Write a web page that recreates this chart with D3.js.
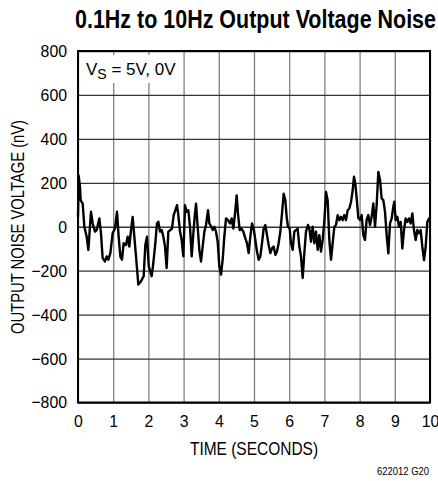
<!DOCTYPE html>
<html>
<head>
<meta charset="utf-8">
<script src="https://cdn.jsdelivr.net/npm/d3@7"></script>
<style>
  body { margin: 0; background: #fff; }
  svg { display: block; font-family: "Liberation Sans", Arial, sans-serif; }
</style>
</head>
<body>
<svg id="chart" width="438" height="481"></svg>
<script>
// values (seconds, nV)
var timeSec = [
  0, 0.019, 0.057, 0.076, 0.133, 0.18, 0.246, 0.294, 0.369, 0.417, 0.483, 0.53, 0.606, 0.653, 0.70, 0.767, 0.814, 0.862, 0.919, 0.985,
  1.05, 1.108, 1.155, 1.203, 1.25, 1.297, 1.364, 1.411, 1.458, 1.506, 1.553, 1.60, 1.648, 1.714, 1.79, 1.866, 1.913, 1.96,
  2.01, 2.093, 2.14, 2.197, 2.244, 2.282, 2.33, 2.377, 2.424, 2.472, 2.519, 2.566, 2.623, 2.67, 2.718, 2.765, 2.813, 2.85, 2.898, 2.945, 2.993,
  3.04, 3.087, 3.135, 3.182, 3.23, 3.277, 3.315, 3.353, 3.40, 3.447, 3.495, 3.542, 3.59, 3.637, 3.694, 3.731, 3.788, 3.826, 3.873, 3.92, 3.968,
  4.015, 4.063, 4.11, 4.157, 4.205, 4.261, 4.318, 4.366, 4.413, 4.46, 4.508, 4.545, 4.593, 4.64, 4.697, 4.754, 4.80, 4.848, 4.896, 4.943, 4.99,
  5.038, 5.085, 5.133, 5.18, 5.227, 5.275, 5.322, 5.369, 5.417, 5.464, 5.511, 5.559, 5.606, 5.653, 5.70, 5.748, 5.795, 5.843, 5.89, 5.928, 5.966,
  6.013, 6.051, 6.098, 6.146, 6.193, 6.24, 6.288, 6.335, 6.383, 6.43, 6.477, 6.534, 6.572, 6.619, 6.667, 6.714, 6.761, 6.809, 6.856, 6.903, 6.951, 6.998,
  7.045, 7.093, 7.14, 7.188, 7.235, 7.282, 7.33, 7.377, 7.424, 7.472, 7.519, 7.566, 7.614, 7.661, 7.708, 7.756, 7.803, 7.841, 7.879, 7.917, 7.964,
  8.011, 8.059, 8.106, 8.153, 8.20, 8.248, 8.295, 8.343, 8.39, 8.438, 8.485, 8.532, 8.58, 8.627, 8.674, 8.722, 8.769, 8.816, 8.864, 8.911, 8.958, 8.986,
  9.025, 9.072, 9.119, 9.167, 9.214, 9.261, 9.309, 9.356, 9.403, 9.45, 9.498, 9.545, 9.593, 9.64, 9.688, 9.735, 9.782, 9.83, 9.877, 9.924, 9.972, 10.0
];
var noiseNV = [
  45, 233, 180, 120, 105, 0, -45, -105, 68, 15, -22, -15, 38, -30, -143, -158, -135, -150, -120, -30,
  -8, 68, -45, -135, -150, -75, -83, -45, -90, -15, 45, -45, -135, -263, -248, -225, -83, -45,
  -180, -225, -165, -75, 15, 23, -22, -15, -45, -90, -188, -22, -15, -8, 53, 75, 98, 53, -22, -60, -135,
  98, 68, 75, 0, -135, -30, 45, 105, 0, -105, -158, -90, -22, 8, 75, 15, 0, -15, 0, -22, -68,
  -180, -218, -150, -45, 38, 30, 15, 38, -8, 60, 143, 60, -15, -8, -22, -53, -75, -120, -45, 15, -8,
  -60, -113, -150, -135, -75, -8, 8, -38, -83, -120, -98, -90, -128, -113, -75, -22, 60, 150, 120, 45, 0,
  -8, -75, -105, -22, -15, -8, -90, -135, -233, -120, -22, 8, -8, -68, 0, -75, -22, -105, -38, -113, -60, 23,
  158, 120, -60, -150, -75, 0, 8, 53, 30, 45, 30, 53, 30, 75, 83, 113, 165, 228, 195, 130, 40,
  31, 53, -38, -60, 31, 53, 8, 45, 106, 0, 99, 250, 213, 129, 121, 68, -38, -121, 15, 38, 91, 114,
  31, 45, 0, 22, -99, -15, 38, 22, 38, 15, 61, -15, -60, -15, -30, -15, -91, -152, -91, 22, 38, 31
];
var xTicks = [0, 1, 2, 3, 4, 5, 6, 7, 8, 9, 10];
var yTicks = [-800, -600, -400, -200, 0, 200, 400, 600, 800];

var svg = d3.select("#chart");
var plotL = 78, plotR = 430, plotT = 51, plotB = 402.5;

var x = d3.scaleLinear().domain([0, 10]).range([plotL, plotR]);
var y = d3.scaleLinear().domain([-800, 800]).range([plotB, plotT]);

// squeeze text horizontally, the original uses a condensed face
function narrow(sel, k) {
    sel.each(function() {
        var w = this.getComputedTextLength();
        d3.select(this).attr("textLength", w * (k || 0.82)).attr("lengthAdjust", "spacingAndGlyphs");
    });
}

// title
svg.append("text")
    .attr("x", 75).attr("y", 28)
    .attr("font-size", 26).attr("font-weight", "bold")
    .attr("textLength", 361).attr("lengthAdjust", "spacingAndGlyphs")
    .text("0.1Hz to 10Hz Output Voltage Noise");

// grid
var vgrid = svg.append("g")
    .attr("transform", "translate(0," + plotB + ")")
    .call(d3.axisBottom(x).tickValues(xTicks).tickSize(-(plotB - plotT)).tickFormat(""));
vgrid.select(".domain").remove();
vgrid.selectAll("line").attr("stroke", "#808080").attr("stroke-width", 1.3);

var hgrid = svg.append("g")
    .attr("transform", "translate(" + plotL + ",0)")
    .call(d3.axisLeft(y).tickValues(yTicks).tickSize(-(plotR - plotL)).tickFormat(""));
hgrid.select(".domain").remove();
hgrid.selectAll("line").attr("stroke", "#333").attr("stroke-width", 1.3);

// label box over the grid
svg.append("rect")
    .attr("x", 80).attr("y", 55).attr("width", 101).attr("height", 28)
    .attr("fill", "#fff");

// noise trace
var pts = timeSec.map(function(t, i) { return [t, noiseNV[i]]; });
var line = d3.line()
    .x(function(d) { return x(d[0]); })
    .y(function(d) { return y(d[1]); });
svg.append("path")
    .datum(pts)
    .attr("d", line)
    .attr("fill", "none")
    .attr("stroke", "#000")
    .attr("stroke-width", 2.4)
    .attr("stroke-linejoin", "round");

// frame
svg.append("rect")
    .attr("x", plotL).attr("y", plotT)
    .attr("width", plotR - plotL).attr("height", plotB - plotT)
    .attr("fill", "none").attr("stroke", "#000").attr("stroke-width", 2);

// tick labels
var xAxis = svg.append("g")
    .attr("transform", "translate(0," + plotB + ")")
    .call(d3.axisBottom(x).tickValues(xTicks).tickSize(0).tickPadding(12.5));
xAxis.select(".domain").remove();
xAxis.attr("font-family", null).attr("font-size", null);
xAxis.selectAll("text").attr("font-size", 17).attr("fill", "#000").call(narrow, 0.93);

var yAxis = svg.append("g")
    .attr("transform", "translate(" + plotL + ",0)")
    .call(d3.axisLeft(y).tickValues(yTicks).tickSize(0).tickPadding(11));
yAxis.select(".domain").remove();
yAxis.attr("font-family", null).attr("font-size", null);
yAxis.selectAll("text").attr("font-size", 17).attr("fill", "#000").call(narrow, 0.93);

// axis titles
svg.append("text")
    .attr("x", 254).attr("y", 455)
    .attr("text-anchor", "middle").attr("font-size", 18)
    .text("TIME (SECONDS)")
    .call(narrow, 0.86);

svg.append("text")
    .attr("transform", "translate(24,227) rotate(-90)")
    .attr("text-anchor", "middle").attr("font-size", 18)
    .text("OUTPUT NOISE VOLTAGE (nV)")
    .call(narrow);

// annotation
var note = svg.append("text").attr("x", 86).attr("y", 75).attr("font-size", 17);
note.append("tspan").text("V");
note.append("tspan").attr("font-size", 14).attr("dy", 3.5).text("S");
note.append("tspan").attr("dy", -3.5).text(" = 5V, 0V");
note.call(narrow, 1.0);

// figure code
svg.append("text")
    .attr("x", 429).attr("y", 475)
    .attr("text-anchor", "end").attr("font-size", 11.5)
    .text("622012 G20")
    .call(narrow);
</script>
</body>
</html>
